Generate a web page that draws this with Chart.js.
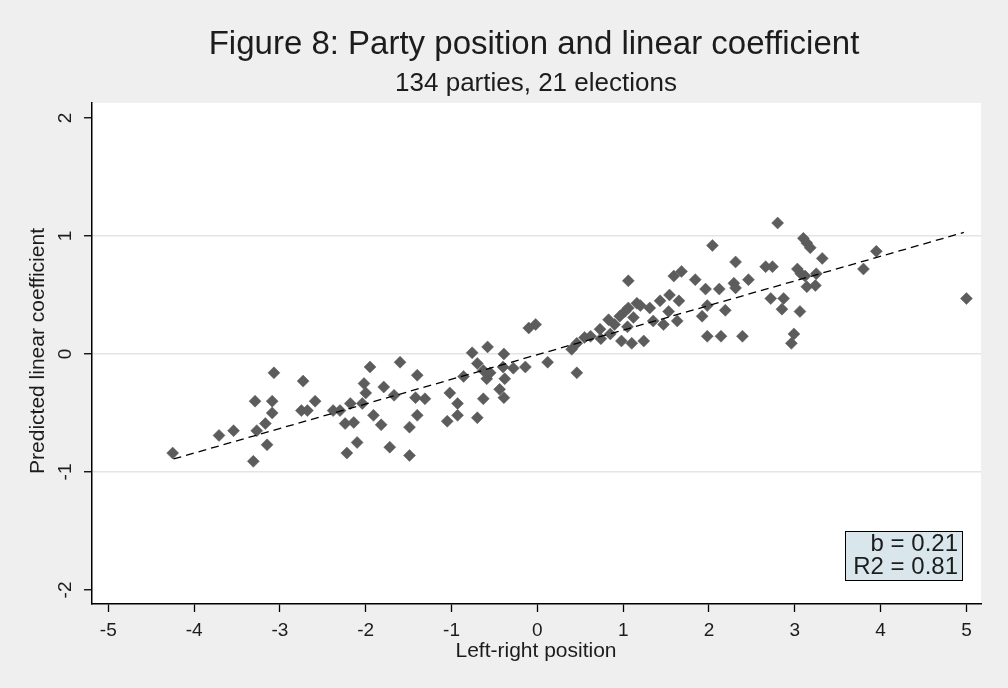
<!DOCTYPE html>
<html>
<head>
<meta charset="utf-8">
<script src="https://cdn.jsdelivr.net/npm/chart.js@4"></script>
<style>
  html, body { margin: 0; padding: 0; background: #efefef; }
  canvas { display: block; }
</style>
</head>
<body>
<canvas id="chart" width="1008" height="688"></canvas>
<script>
// party left-right position (x) and predicted linear coefficient (y)
const positions = [
  -4.25, -3.71, -3.54, -3.31, -3.27, -3.15, -3.17, -3.09, -3.09, -3.29,
  -3.07, -2.73, -2.75, -2.68, -2.59, -2.38, -2.30, -2.24, -2.22, -2.18,
  -2.14, -2.10, -2.02, -2.00, -1.95, -2.04, -1.91, -1.82, -1.79, -1.67,
  -1.72, -1.60, -1.49, -1.49, -1.40, -1.42, -1.31, -1.40, -1.05, -0.93,
  -0.93, -1.02, -0.86, -0.76, -0.58, -0.70, -0.63, -0.59, -0.63, -0.70,
  -0.39, -0.40, -0.38, -0.44, -0.39, -0.28, -0.14, -0.10, -0.02, 0.12,
  0.46, -0.55,
  0.40, 0.46, 0.55, 0.73, 0.74, 0.83, 0.85, 0.96, 1.02, 1.06,
  0.98, 1.10, 1.24, 1.06, 1.05, 1.16, 1.20, 1.31, 1.35, 1.43,
  1.54, 1.65, 1.53, 1.47, 1.63, 1.59, 1.68, 1.84, 1.96, 2.12,
  2.04, 1.98, 1.92, 1.98, 2.14, 2.39, 2.19, 2.31, 2.29, 2.31,
  2.46, 2.80, 3.10, 3.14, 3.18, 3.32, 2.66, 2.74, 3.03, 3.07,
  3.12, 3.25, 3.14, 3.24, 2.72, 2.87, 2.85, 3.06, 2.99, 2.96,
  3.80, 3.95, 5.00, 0.90, 1.12, 0.62
];
const coefficients = [
  -0.84, -0.69, -0.65, -0.91, -0.65, -0.77, -0.59, -0.50, -0.40, -0.40,
  -0.16, -0.23, -0.48, -0.48, -0.40, -0.48, -0.48, -0.59, -0.84, -0.42,
  -0.58, -0.75, -0.25, -0.33, -0.11, -0.42, -0.52, -0.60, -0.28, -0.35,
  -0.79, -0.07, -0.86, -0.62, -0.52, -0.37, -0.38, -0.18, -0.57, -0.52,
  -0.42, -0.33, -0.19, 0.01, 0.06, -0.08, -0.14, -0.21, -0.38, -0.54,
  0.00, -0.11, -0.21, -0.30, -0.37, -0.12, -0.11, 0.22, 0.25, -0.07,
  -0.16, -0.16,
  0.04, 0.09, 0.14, 0.21, 0.13, 0.29, 0.17, 0.32, 0.36, 0.39,
  0.11, 0.09, 0.11, 0.62, 0.23, 0.43, 0.41, 0.39, 0.28, 0.45,
  0.50, 0.45, 0.36, 0.25, 0.28, 0.66, 0.70, 0.63, 0.55, 0.55,
  0.92, 0.41, 0.32, 0.15, 0.15, 0.15, 0.37, 0.78, 0.60, 0.56,
  0.63, 1.11, 0.98, 0.94, 0.90, 0.81, 0.74, 0.74, 0.72, 0.68,
  0.66, 0.68, 0.57, 0.58, 0.47, 0.47, 0.38, 0.36, 0.17, 0.09,
  0.72, 0.87, 0.47, 0.25, 0.31, 0.15
];

// fitted regression line (end points)
const fitX = [-4.24, 4.97];
const fitY = [-0.89, 1.03];

const xTicks = [-5, -4, -3, -2, -1, 0, 1, 2, 3, 4, 5];
const yTicks = [-2, -1, 0, 1, 2];
const yGridAt = [-1, 0, 1];

const titleText = "Figure 8: Party position and linear coefficient";
const subtitleText = "134 parties, 21 elections";
const xTitle = "Left-right position";
const yTitle = "Predicted linear coefficient";
const statLines = ["b = 0.21", "R2 = 0.81"];

const FONT = '"Liberation Sans", Arial, sans-serif';
const markerColor = "#5c5c5c";
const textColor = "#1c1c1c";

const backgroundPlugin = {
  id: "background",
  beforeDraw(chart) {
    const { ctx, chartArea: a } = chart;
    ctx.save();
    ctx.fillStyle = "#efefef";
    ctx.fillRect(0, 0, chart.width, chart.height);
    ctx.fillStyle = "#ffffff";
    ctx.fillRect(a.left, a.top, a.right - a.left, a.bottom - a.top);
    ctx.restore();
  }
};

const textPlugin = {
  id: "texts",
  afterDraw(chart) {
    const { ctx, chartArea: a } = chart;
    const yScale = chart.scales.y;
    ctx.save();
    ctx.fillStyle = textColor;
    ctx.textAlign = "center";
    ctx.textBaseline = "middle";

    ctx.font = "33px " + FONT;
    ctx.fillText(titleText, 534, 45);
    ctx.font = "26px " + FONT;
    ctx.fillText(subtitleText, 536, 84);

    ctx.font = "21px " + FONT;
    ctx.fillText(xTitle, 536, 651);

    ctx.save();
    ctx.translate(38, 351);
    ctx.rotate(-Math.PI / 2);
    ctx.fillText(yTitle, 0, 0);
    ctx.restore();

    // rotated y tick labels
    ctx.font = "19px " + FONT;
    for (const v of yTicks) {
      const py = yScale.getPixelForValue(v);
      ctx.save();
      ctx.translate(66, py);
      ctx.rotate(-Math.PI / 2);
      ctx.fillText(String(v), 0, 0);
      ctx.restore();
    }

    // stats box
    const bw = 117, bh = 49;
    const bx = a.right - 19 - bw, by = a.bottom - 24 - bh;
    ctx.fillStyle = "#d9e6ec";
    ctx.fillRect(bx, by, bw, bh);
    ctx.strokeStyle = "#000";
    ctx.lineWidth = 1;
    ctx.strokeRect(bx + 0.5, by + 0.5, bw, bh);
    ctx.fillStyle = textColor;
    ctx.font = "24px " + FONT;
    ctx.textAlign = "right";
    ctx.fillText(statLines[0], bx + bw - 4, by + 13);
    ctx.fillText(statLines[1], bx + bw - 4, by + 36);
    ctx.restore();
  }
};

new Chart(document.getElementById("chart"), {
  type: "scatter",
  data: {
    datasets: [
      {
        label: "fit",
        type: "line",
        data: fitX.map((x, i) => ({ x: x, y: fitY[i] })),
        borderColor: "#000",
        borderWidth: 1.3,
        borderDash: [8, 5],
        pointRadius: 0,
        fill: false,
        order: 0
      },
      {
        label: "parties",
        data: positions.map((x, i) => ({ x: x, y: coefficients[i] })),
        pointStyle: "rectRot",
        pointRadius: 6,
        pointHoverRadius: 6,
        backgroundColor: markerColor,
        borderColor: markerColor,
        borderWidth: 0.5,
        order: 1
      }
    ]
  },
  options: {
    responsive: false,
    animation: false,
    devicePixelRatio: 1,
    layout: { padding: { top: 103, right: 27, bottom: 0, left: 0 } },
    plugins: {
      legend: { display: false },
      tooltip: { enabled: false }
    },
    scales: {
      x: {
        type: "linear",
        min: -5.19,
        max: 5.17,
        afterBuildTicks: (s) => { s.ticks = xTicks.map(v => ({ value: v })); },
        afterFit: (s) => { s.height = 84; },
        grid: {
          drawOnChartArea: false,
          tickLength: 8,
          tickColor: "#000",
          tickWidth: 1.3
        },
        border: { color: "#000", width: 1.5 },
        ticks: {
          padding: 7,
          color: textColor,
          font: { family: FONT, size: 19 },
          callback: (v) => String(v)
        }
      },
      y: {
        type: "linear",
        min: -2.119,
        max: 2.127,
        afterBuildTicks: (s) => { s.ticks = yTicks.map(v => ({ value: v })); },
        afterFit: (s) => { s.width = 92; },
        grid: {
          color: (c) => (c.tick && yGridAt.includes(c.tick.value) ? "#e4e4e4" : "rgba(0,0,0,0)"),
          lineWidth: 1.5,
          tickLength: 8,
          tickColor: "#000",
          tickWidth: 1.3
        },
        border: { color: "#000", width: 1.5 },
        ticks: { display: false }
      }
    }
  },
  plugins: [backgroundPlugin, textPlugin]
});
</script>
</body>
</html>
